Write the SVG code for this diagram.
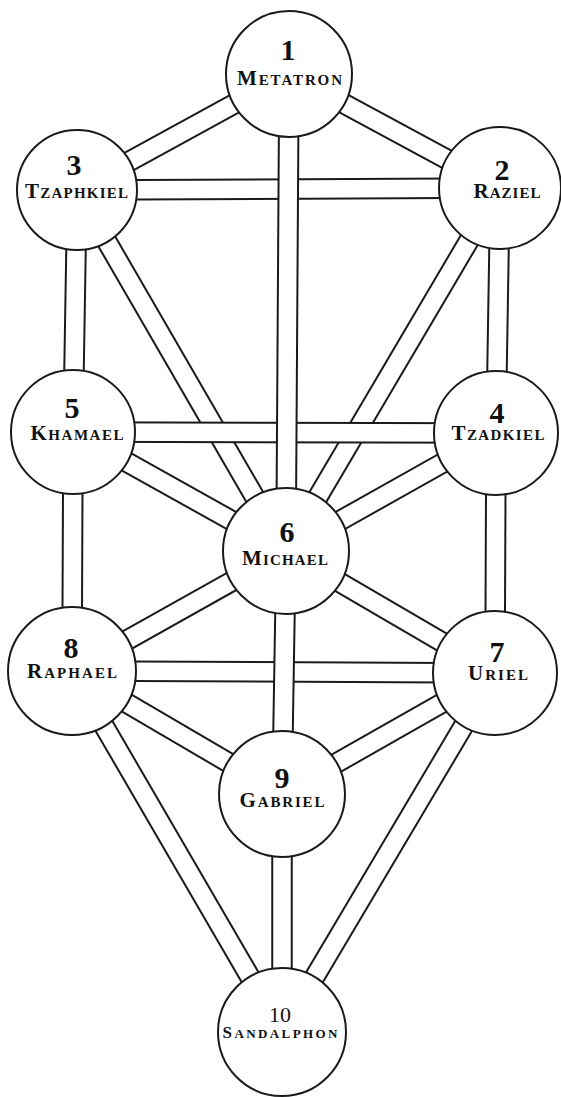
<svg xmlns="http://www.w3.org/2000/svg" width="561" height="1097" viewBox="0 0 561 1097">
<defs>
<style>
.o{stroke:#1a1a1a;stroke-width:21.5;stroke-linecap:butt;fill:none}
.i{stroke:#ffffff;stroke-width:17.5;stroke-linecap:butt;fill:none}
.node circle{fill:#ffffff;stroke:#1a1a1a;stroke-width:2}
.num{font-family:"Liberation Serif","DejaVu Serif",serif;font-weight:bold;font-size:30px;fill:#111;text-anchor:middle}
.nm{font-family:"Liberation Serif","DejaVu Serif",serif;font-weight:bold;font-size:15px;fill:#111;text-anchor:middle}
.cap{font-size:21px}
</style>
</defs>
<rect width="561" height="1097" fill="#ffffff"/>
<g id="connectors">
  <g id="p1-2"><line class="o" x1="289" y1="74" x2="500" y2="188"/><line class="i" x1="289" y1="74" x2="500" y2="188"/></g>
  <g id="p1-3"><line class="o" x1="289" y1="74" x2="77" y2="190"/><line class="i" x1="289" y1="74" x2="77" y2="190"/></g>
  <g id="p3-6"><line class="o" x1="77" y1="190" x2="286" y2="551"/><line class="i" x1="77" y1="190" x2="286" y2="551"/></g>
  <g id="p2-6"><line class="o" x1="500" y1="188" x2="286" y2="551"/><line class="i" x1="500" y1="188" x2="286" y2="551"/></g>
  <g id="p5-6"><line class="o" x1="73" y1="432" x2="286" y2="551"/><line class="i" x1="73" y1="432" x2="286" y2="551"/></g>
  <g id="p4-6"><line class="o" x1="496" y1="433" x2="286" y2="551"/><line class="i" x1="496" y1="433" x2="286" y2="551"/></g>
  <g id="p6-8"><line class="o" x1="286" y1="551" x2="72" y2="671"/><line class="i" x1="286" y1="551" x2="72" y2="671"/></g>
  <g id="p6-7"><line class="o" x1="286" y1="551" x2="495" y2="673"/><line class="i" x1="286" y1="551" x2="495" y2="673"/></g>
  <g id="p8-9"><line class="o" x1="72" y1="671" x2="282" y2="794"/><line class="i" x1="72" y1="671" x2="282" y2="794"/></g>
  <g id="p7-9"><line class="o" x1="495" y1="673" x2="282" y2="794"/><line class="i" x1="495" y1="673" x2="282" y2="794"/></g>
  <g id="p8-10"><line class="o" x1="72" y1="671" x2="282" y2="1032"/><line class="i" x1="72" y1="671" x2="282" y2="1032"/></g>
  <g id="p7-10"><line class="o" x1="495" y1="673" x2="282" y2="1032"/><line class="i" x1="495" y1="673" x2="282" y2="1032"/></g>
  <g id="p3-2"><line class="o" x1="77" y1="190" x2="500" y2="188"/><line class="i" x1="77" y1="190" x2="500" y2="188"/></g>
  <g id="p5-4"><line class="o" x1="73" y1="432" x2="496" y2="433"/><line class="i" x1="73" y1="432" x2="496" y2="433"/></g>
  <g id="p8-7"><line class="o" x1="72" y1="671" x2="495" y2="673"/><line class="i" x1="72" y1="671" x2="495" y2="673"/></g>
  <g id="p1-6"><line class="o" x1="289" y1="74" x2="286" y2="551"/><line class="i" x1="289" y1="74" x2="286" y2="551"/></g>
  <g id="p6-9"><line class="o" x1="286" y1="551" x2="282" y2="794"/><line class="i" x1="286" y1="551" x2="282" y2="794"/></g>
  <g id="p9-10"><line class="o" x1="282" y1="794" x2="282" y2="1032"/><line class="i" x1="282" y1="794" x2="282" y2="1032"/></g>
  <g id="p3-5"><line class="o" x1="77" y1="190" x2="73" y2="432"/><line class="i" x1="77" y1="190" x2="73" y2="432"/></g>
  <g id="p2-4"><line class="o" x1="500" y1="188" x2="496" y2="433"/><line class="i" x1="500" y1="188" x2="496" y2="433"/></g>
  <g id="p5-8"><line class="o" x1="73" y1="432" x2="72" y2="671"/><line class="i" x1="73" y1="432" x2="72" y2="671"/></g>
  <g id="p4-7"><line class="o" x1="496" y1="433" x2="495" y2="673"/><line class="i" x1="496" y1="433" x2="495" y2="673"/></g>
</g>
<g id="n1" class="node"><circle cx="289" cy="74" r="63"/>
  <text class="num" x="288" y="60">1</text>
  <text class="nm" x="289.5" y="85" textLength="105" lengthAdjust="spacing"><tspan class="cap">M</tspan>ETATRON</text></g>
<g id="n2" class="node"><circle cx="500" cy="188" r="61"/>
  <text class="num" x="502" y="180">2</text>
  <text class="nm" x="507" y="198" textLength="67" lengthAdjust="spacing"><tspan class="cap">R</tspan>AZIEL</text></g>
<g id="n3" class="node"><circle cx="77" cy="190" r="60"/>
  <text class="num" x="74" y="175">3</text>
  <text class="nm" x="76.5" y="198" textLength="103" lengthAdjust="spacing"><tspan class="cap">T</tspan>ZAPHKIEL</text></g>
<g id="n4" class="node"><circle cx="496" cy="433" r="62"/>
  <text class="num" x="497" y="423">4</text>
  <text class="nm" x="498" y="440" textLength="93" lengthAdjust="spacing"><tspan class="cap">T</tspan>ZADKIEL</text></g>
<g id="n5" class="node"><circle cx="73" cy="432" r="62"/>
  <text class="num" x="72" y="418">5</text>
  <text class="nm" x="77" y="440" textLength="93" lengthAdjust="spacing"><tspan class="cap">K</tspan>HAMAEL</text></g>
<g id="n6" class="node"><circle cx="286" cy="551" r="63"/>
  <text class="num" x="287" y="542">6</text>
  <text class="nm" x="285" y="565" textLength="86" lengthAdjust="spacing"><tspan class="cap">M</tspan>ICHAEL</text></g>
<g id="n7" class="node"><circle cx="495" cy="673" r="62"/>
  <text class="num" x="497" y="662">7</text>
  <text class="nm" x="498" y="680" textLength="60" lengthAdjust="spacing"><tspan class="cap">U</tspan>RIEL</text></g>
<g id="n8" class="node"><circle cx="72" cy="671" r="64"/>
  <text class="num" x="71" y="658">8</text>
  <text class="nm" x="72" y="678" textLength="90" lengthAdjust="spacing"><tspan class="cap">R</tspan>APHAEL</text></g>
<g id="n9" class="node"><circle cx="282" cy="794" r="63"/>
  <text class="num" x="282" y="788">9</text>
  <text class="nm" x="282" y="807" textLength="85" lengthAdjust="spacing"><tspan class="cap">G</tspan>ABRIEL</text></g>
<g id="n10" class="node"><circle cx="282" cy="1032" r="64"/>
  <text class="num" x="280" y="1022" style="font-size:22px;font-weight:normal">10</text>
  <text class="nm" x="280" y="1038" textLength="115" lengthAdjust="spacing" style="font-size:13px"><tspan class="cap" style="font-size:17px">S</tspan>ANDALPHON</text></g>
</svg>
